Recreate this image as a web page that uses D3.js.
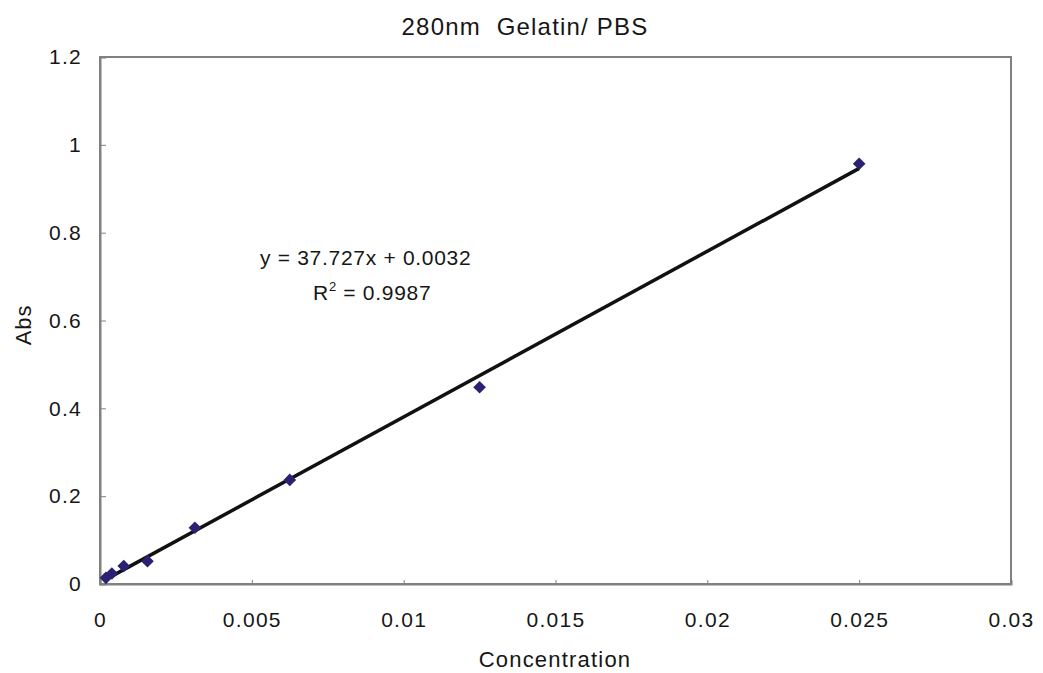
<!DOCTYPE html>
<html>
<head>
<meta charset="utf-8">
<script src="https://cdn.jsdelivr.net/npm/d3@7"></script>
<style>
  body { margin: 0; background: #fff; }
  text { font-family: "Liberation Sans", Arial, sans-serif; fill: #161616; }
</style>
</head>
<body>
<div id="chart"></div>
<script>
// data
var concentration = [0.025, 0.0125, 0.00625, 0.003125, 0.0015625, 0.00078125, 0.000390625, 0.0001953125];
var absorbance = [0.957, 0.448, 0.237, 0.128, 0.052, 0.041, 0.024, 0.014];
var xTicks = [0, 0.005, 0.01, 0.015, 0.02, 0.025, 0.03];
var yTicks = [0, 0.2, 0.4, 0.6, 0.8, 1, 1.2];
var slope = 37.727, intercept = 0.0032, rSquared = 0.9987;

var width = 1043, height = 673;
var margin = {top: 57, right: 32, bottom: 89, left: 100};

var svg = d3.select("#chart").append("svg")
  .attr("width", width).attr("height", height);

var x = d3.scaleLinear().domain([0, 0.03]).range([margin.left, width - margin.right]);
var y = d3.scaleLinear().domain([0, 1.2]).range([height - margin.bottom, margin.top]);

// plot frame
svg.append("rect")
  .attr("x", x(0)).attr("y", y(1.2))
  .attr("width", x(0.03) - x(0)).attr("height", y(0) - y(1.2))
  .attr("fill", "none").attr("stroke", "#808080").attr("stroke-width", 2);

// axes
var xAxis = d3.axisBottom(x).tickValues(xTicks).tickSize(-4).tickPadding(28)
  .tickFormat(function(d) { return d === 0 ? "0" : String(+d.toFixed(3)); });
var yAxis = d3.axisLeft(y).tickValues(yTicks).tickSize(-6).tickPadding(18)
  .tickFormat(function(d) { return String(+d.toFixed(1)); });

var gx = svg.append("g").attr("transform", "translate(0," + y(0) + ")").call(xAxis);
var gy = svg.append("g").attr("transform", "translate(" + x(0) + ",0)").call(yAxis);
[gx, gy].forEach(function(g) {
  g.select(".domain").attr("stroke", "#808080").attr("stroke-width", 2);
  g.selectAll(".tick line").attr("stroke", "#808080");
  g.selectAll(".tick text").style("font-size", "21px").style("letter-spacing", "1.3px")
    .style("font-family", "'Liberation Sans', Arial, sans-serif").attr("fill", "#161616");
});

// trendline over the data range
var xExt = d3.extent(concentration);
svg.append("line")
  .attr("x1", x(xExt[0])).attr("y1", y(slope * xExt[0] + intercept))
  .attr("x2", x(xExt[1])).attr("y2", y(slope * xExt[1] + intercept))
  .attr("stroke", "#111").attr("stroke-width", 3.5);

// markers
var diamond = d3.symbol().type(d3.symbolSquare).size(80);
svg.selectAll(".pt").data(concentration).enter().append("path")
  .attr("class", "pt")
  .attr("d", diamond)
  .attr("transform", function(d, i) { return "translate(" + x(d) + "," + y(absorbance[i]) + ") rotate(45)"; })
  .attr("fill", "#2b2173");

// title
svg.append("text").attr("x", 525).attr("y", 35)
  .attr("text-anchor", "middle").style("font-size", "24px").style("letter-spacing", "1.2px")
  .style("white-space", "pre")
  .text("280nm  Gelatin/ PBS");

// equation labels
svg.append("text").attr("x", 260).attr("y", 265)
  .style("font-size", "21px").style("letter-spacing", "0.7px")
  .text("y = " + slope + "x + " + intercept);
var r2 = svg.append("text").attr("x", 313).attr("y", 300)
  .style("font-size", "21px").style("letter-spacing", "0.7px");
r2.append("tspan").text("R");
r2.append("tspan").attr("dy", -9).style("font-size", "13px").text("2");
r2.append("tspan").attr("dy", 9).text(" = " + rSquared);

// axis titles
svg.append("text").attr("x", 555).attr("y", 667)
  .attr("text-anchor", "middle").style("font-size", "22px").style("letter-spacing", "1.2px")
  .text("Concentration");
svg.append("text").attr("transform", "translate(31," + y(0.59) + ") rotate(-90)")
  .attr("text-anchor", "middle").style("font-size", "22px").style("letter-spacing", "1px")
  .text("Abs");
</script>
</body>
</html>
